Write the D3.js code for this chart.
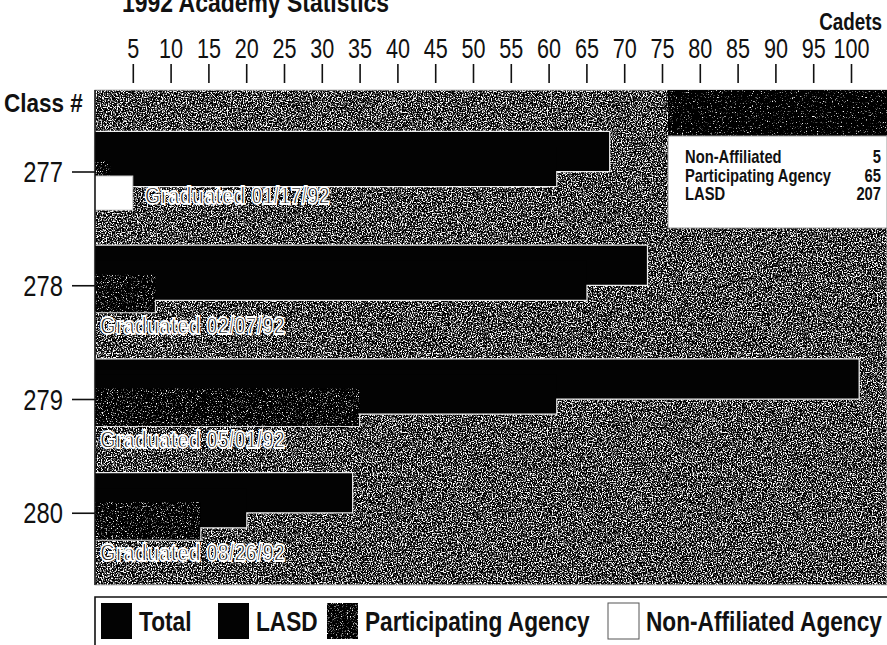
<!DOCTYPE html>
<html>
<head>
<meta charset="utf-8">
<script src="https://cdn.jsdelivr.net/npm/d3@7"></script>
<style>
  html, body { margin: 0; padding: 0; background: #ffffff; }
  svg { display: block; }
  text { font-family: "Liberation Sans", Arial, sans-serif; }
</style>
</head>
<body>
<svg id="chart" width="887" height="645"></svg>
<script>
// ---------------- data ----------------
const classes = ["277", "278", "279", "280"];
const totalValues = [68, 73, 101, 34];
const lasdValues = [61, 65, 61, 20];
const participatingValues = [2, 8, 35, 14];
const nonAffiliatedValues = [5, 0, 0, 0];
const graduationLabels = ["Graduated 01/17/92", "Graduated 02/07/92", "Graduated 05/01/92", "Graduated 08/26/92"];
const xTickValues = [5, 10, 15, 20, 25, 30, 35, 40, 45, 50, 55, 60, 65, 70, 75, 80, 85, 90, 95, 100];
const summaryLabels = ["Non-Affiliated", "Participating Agency", "LASD"];
const summaryValues = [5, 65, 207];
const legendLabels = ["Total", "LASD", "Participating Agency", "Non-Affiliated Agency"];

// ---------------- layout ----------------
const W = 887, H = 645;
const plot = { left: 95, top: 90, right: 887, bottom: 585 };
const svg = d3.select("#chart");
const SX = 0.82; // condensed look

const x = d3.scaleLinear().domain([0, 100]).range([95, 851]);
const y = d3.scaleBand().domain(classes).range([132, 587]).padding(0);

function label(parent, px, py, str, size, opts = {}) {
  const t = parent.append("text")
    .attr("transform", `translate(${px},${py}) scale(${opts.sx || SX},1)`)
    .attr("font-size", size)
    .attr("font-weight", opts.bold ? "bold" : "normal")
    .attr("text-anchor", opts.anchor || "start")
    .attr("fill", opts.fill || "#111")
    .text(str);
  if (opts.stroke) t.attr("stroke", opts.stroke).attr("stroke-width", opts.strokeWidth || 1);
  return t;
}

// ---------------- texture filters ----------------
const defs = svg.append("defs");
function noiseFilter(id, slope, intercept, seed, freq) {
  const f = defs.append("filter").attr("id", id)
    .attr("x", "-5%").attr("y", "-5%").attr("width", "110%").attr("height", "110%")
    .attr("color-interpolation-filters", "sRGB");
  f.append("feTurbulence").attr("type", "fractalNoise").attr("baseFrequency", freq)
    .attr("numOctaves", 2).attr("seed", seed).attr("result", "n");
  f.append("feColorMatrix").attr("in", "n").attr("type", "matrix")
    .attr("values", "1 0 0 0 0  1 0 0 0 0  1 0 0 0 0  0 0 0 0 1").attr("result", "g");
  const ct = f.append("feComponentTransfer").attr("in", "g").attr("result", "c");
  ["feFuncR", "feFuncG", "feFuncB"].forEach(fn =>
    ct.append(fn).attr("type", "linear").attr("slope", slope).attr("intercept", intercept));
  f.append("feComposite").attr("in", "c").attr("in2", "SourceAlpha").attr("operator", "in");
}
noiseFilter("bgNoise", 5, -2.3, 3, 0.8);
noiseFilter("partNoise", 5, -2.85, 7, 0.8);
noiseFilter("blackNoise", 5, -3.1, 11, 0.8);

// ---------------- title & axis ----------------
label(svg, 122, 12, "1992 Academy Statistics", 28, { bold: true });
label(svg, 882, 30, "Cadets", 23, { bold: true, anchor: "end" });

const xAxis = d3.axisTop(x).tickValues(xTickValues).tickSize(19).tickFormat("");
const gx = svg.append("g").attr("transform", "translate(0,83)").call(xAxis);
gx.select(".domain").remove();
gx.selectAll(".tick line").attr("stroke", "#111").attr("stroke-width", 1.6);
gx.selectAll(".tick").each(function (d) {
  label(d3.select(this), 0, -25, String(d), 27, { anchor: "middle", sx: 0.8 });
});

// ---------------- plot background ----------------
svg.append("rect").attr("x", plot.left).attr("y", plot.top)
  .attr("width", plot.right - plot.left).attr("height", plot.bottom - plot.top)
  .attr("fill", "#000").attr("filter", "url(#bgNoise)");
svg.append("rect").attr("x", plot.left).attr("y", plot.top)
  .attr("width", plot.right - plot.left).attr("height", plot.bottom - plot.top)
  .attr("fill", "none").attr("stroke", "#bbb").attr("stroke-width", 1);

label(svg, 4, 112, "Class #", 25, { bold: true, sx: 0.9 });

// ---------------- bars ----------------
const rows = classes.map((c, i) => ({
  cls: c, total: totalValues[i], lasd: lasdValues[i], part: participatingValues[i],
  non: nonAffiliatedValues[i], label: graduationLabels[i]
}));
const off = { total: 0, lasd: 15, part: 29, non: 44 };
const bh = { total: 39, lasd: 39, part: 38, non: 34 };

const gBars = svg.append("g");
// outline layer (union outline)
rows.forEach(r => {
  const T = y(r.cls);
  gBars.append("rect").attr("x", x(0)).attr("y", T + off.total)
    .attr("width", x(r.total) - x(0)).attr("height", bh.total)
    .attr("fill", "#000").attr("stroke", "#eee").attr("stroke-width", 2.5);
  gBars.append("rect").attr("x", x(0)).attr("y", T + off.lasd)
    .attr("width", x(r.lasd) - x(0)).attr("height", bh.lasd)
    .attr("fill", "#000").attr("stroke", "#eee").attr("stroke-width", 2.5);
});
// fill layer
rows.forEach(r => {
  const T = y(r.cls);
  gBars.append("rect").attr("x", x(0)).attr("y", T + off.total)
    .attr("width", x(r.total) - x(0)).attr("height", bh.total).attr("fill", "#030303");
  gBars.append("rect").attr("x", x(0)).attr("y", T + off.lasd)
    .attr("width", x(r.lasd) - x(0)).attr("height", bh.lasd).attr("fill", "#030303");
});
// participating bars
rows.filter(r => r.part > 0).forEach(r => {
  const T = y(r.cls);
  gBars.append("rect").attr("x", x(0)).attr("y", T + off.part)
    .attr("width", x(r.part) - x(0)).attr("height", bh.part)
    .attr("fill", "#000").attr("filter", "url(#partNoise)");
  gBars.append("path")
    .attr("d", `M${x(0)},${T + off.part + bh.part}H${x(r.part)}V${T + off.lasd + bh.lasd}`)
    .attr("fill", "none").attr("stroke", "#ddd").attr("stroke-width", 1.2);
});
// non-affiliated bars
rows.filter(r => r.non > 0).forEach(r => {
  const T = y(r.cls);
  gBars.append("rect").attr("x", x(0)).attr("y", T + off.non)
    .attr("width", x(r.non) - x(0)).attr("height", bh.non)
    .attr("fill", "#ffffff").attr("stroke", "#ccc").attr("stroke-width", 1);
});
// graduation labels
rows.forEach(r => {
  const T = y(r.cls);
  const hasNon = r.non > 0;
  label(svg, hasNon ? x(r.non) + 12 : x(0) + 5, hasNon ? T + 72 : T + 88, r.label, 24,
    { bold: true, fill: "#151515", stroke: "#ffffff", strokeWidth: 1.8, sx: 0.84 });
});

// ---------------- y axis ----------------
svg.append("line").attr("x1", plot.left).attr("x2", plot.left)
  .attr("y1", plot.top).attr("y2", plot.bottom).attr("stroke", "#111").attr("stroke-width", 1.5);
const gy = svg.append("g");
classes.forEach(c => {
  const ty = y(c) + 40;
  gy.append("line").attr("x1", 72).attr("x2", plot.left).attr("y1", ty).attr("y2", ty)
    .attr("stroke", "#111").attr("stroke-width", 1.6);
  label(gy, 63, ty + 10, c, 29, { anchor: "end" });
});

// ---------------- summary box (top right) ----------------
const sb = { x: 668, top: 90, headerBottom: 136, bottom: 228 };
svg.append("rect").attr("x", sb.x).attr("y", sb.top).attr("width", W - sb.x).attr("height", sb.headerBottom - sb.top)
  .attr("fill", "#000").attr("filter", "url(#blackNoise)");
svg.append("rect").attr("x", sb.x).attr("y", sb.headerBottom).attr("width", W - sb.x).attr("height", sb.bottom - sb.headerBottom)
  .attr("fill", "#ffffff").attr("stroke", "#999").attr("stroke-width", 1);
summaryLabels.forEach((lab, i) => {
  const by = 163 + i * 18.5;
  label(svg, 685, by, lab, 18, { bold: true });
  label(svg, 881, by, String(summaryValues[i]), 18, { bold: true, anchor: "end" });
});

// ---------------- bottom legend ----------------
svg.append("path").attr("d", `M${W},597H95V${H}`).attr("fill", "none")
  .attr("stroke", "#111").attr("stroke-width", 1.6);
const legendX = [101, 218, 327, 608];
const legendFill = ["#030303", "#030303", "noise", "#ffffff"];
legendLabels.forEach((lab, i) => {
  const sq = svg.append("rect").attr("x", legendX[i]).attr("y", 603).attr("width", 31).attr("height", 36);
  if (legendFill[i] === "noise") sq.attr("fill", "#000").attr("filter", "url(#partNoise)");
  else sq.attr("fill", legendFill[i]).attr("stroke", i === 3 ? "#555" : "none").attr("stroke-width", 1);
  label(svg, legendX[i] + 38, 631, lab, 27, { bold: true, sx: 0.84 });
});
</script>
</body>
</html>
